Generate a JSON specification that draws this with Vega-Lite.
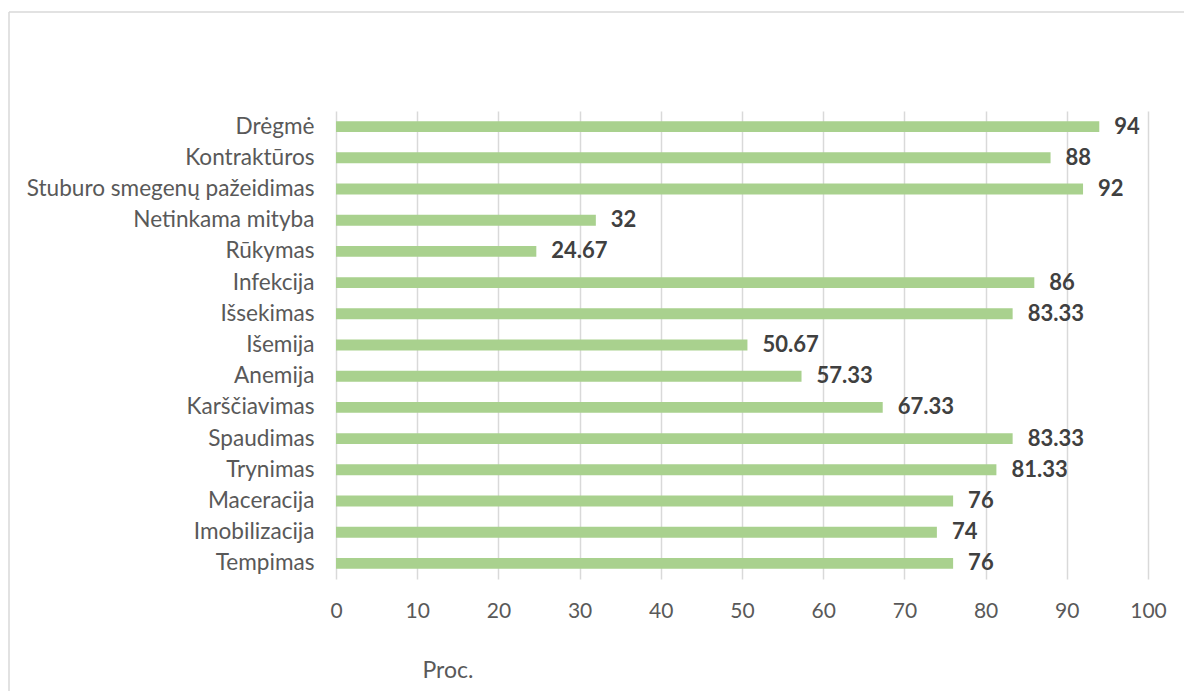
{
  "$schema": "https://vega.github.io/schema/vega-lite/v6.json",
  "autosize": {"type": "none"},
  "padding": {"left": 9, "top": 12, "right": 0, "bottom": 0},
  "width": 1175,
  "height": 679,
  "background": "white",
  "config": {
    "font": "Lato",
    "view": {"stroke": "#d9d9d9", "strokeWidth": 1.5, "strokeDash": [1175, 1854, 679, 0]}
  },
  "data": {
    "values": [
      {"veiksnys": "Drėgmė", "proc": 94},
      {"veiksnys": "Kontraktūros", "proc": 88},
      {"veiksnys": "Stuburo smegenų pažeidimas", "proc": 92},
      {"veiksnys": "Netinkama mityba", "proc": 32},
      {"veiksnys": "Rūkymas", "proc": 24.67},
      {"veiksnys": "Infekcija", "proc": 86},
      {"veiksnys": "Išsekimas", "proc": 83.33},
      {"veiksnys": "Išemija", "proc": 50.67},
      {"veiksnys": "Anemija", "proc": 57.33},
      {"veiksnys": "Karščiavimas", "proc": 67.33},
      {"veiksnys": "Spaudimas", "proc": 83.33},
      {"veiksnys": "Trynimas", "proc": 81.33},
      {"veiksnys": "Maceracija", "proc": 76},
      {"veiksnys": "Imobilizacija", "proc": 74},
      {"veiksnys": "Tempimas", "proc": 76}
    ]
  },
  "encoding": {
    "y": {
      "field": "veiksnys",
      "type": "nominal",
      "sort": null,
      "scale": {"range": [99, 567], "paddingInner": 0.65, "paddingOuter": 0.325},
      "axis": {
        "orient": "left",
        "offset": -327,
        "title": null,
        "domain": false,
        "ticks": false,
        "grid": false,
        "labelPadding": 22,
        "labelFontSize": 22.6,
        "labelColor": "#595959",
        "labelLimit": 500
      }
    },
    "x": {
      "field": "proc",
      "type": "quantitative",
      "scale": {"domain": [0, 100], "range": [327, 1139], "nice": false, "zero": true},
      "axis": {
        "orient": "bottom",
        "offset": -112,
        "values": [0, 10, 20, 30, 40, 50, 60, 70, 80, 90, 100],
        "grid": false,
        "domain": false,
        "ticks": true,
        "tickSize": -468,
        "tickColor": "#d9d9d9",
        "tickWidth": 1.5,
        "labelFlush": false,
        "labelPadding": 489,
        "labelFontSize": 21,
        "labelColor": "#595959",
        "title": "Proc.",
        "titleX": 413,
        "titleY": 91,
        "titleAlign": "left",
        "titleBaseline": "middle",
        "titleFontSize": 23,
        "titleFontWeight": "normal",
        "titleColor": "#595959"
      }
    }
  },
  "layer": [
    {"mark": {"type": "bar", "color": "#a9d18e"}},
    {
      "mark": {
        "type": "text",
        "align": "left",
        "baseline": "middle",
        "dx": 15,
        "fontSize": 22,
        "fontWeight": "bold",
        "color": "#404040"
      },
      "encoding": {"text": {"field": "proc", "type": "quantitative"}}
    }
  ]
}
